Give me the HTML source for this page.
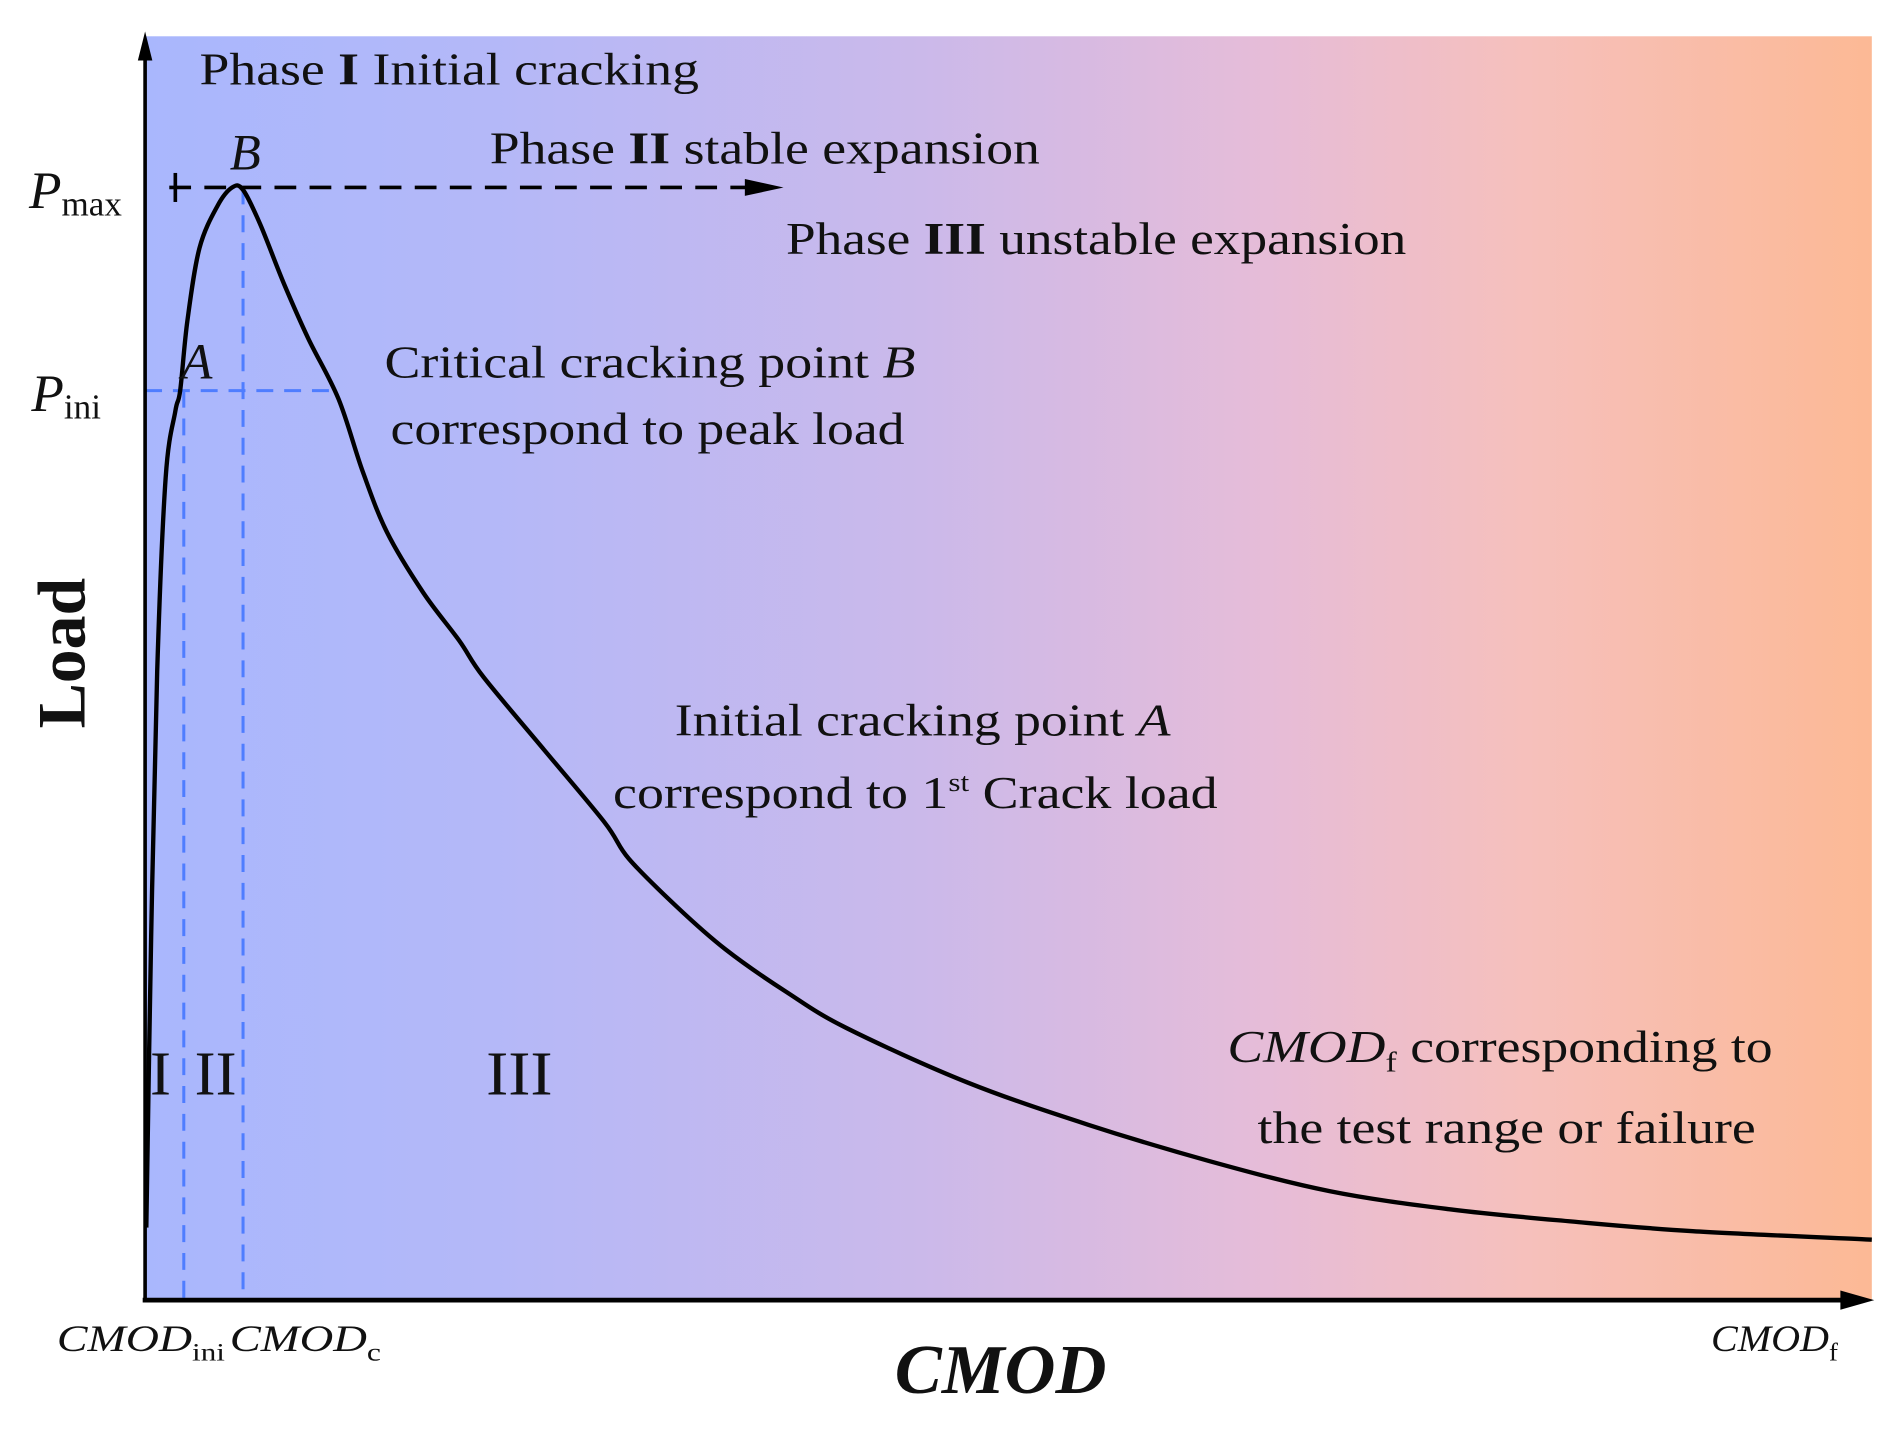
<!DOCTYPE html>
<html><head><meta charset="utf-8"><style>
html,body{margin:0;padding:0;background:#fff}
svg{display:block}
text{font-family:"Liberation Serif",serif;fill:#111}
</style></head><body>
<svg width="1896" height="1438" viewBox="0 0 1568 1189" preserveAspectRatio="none">
<defs>
<linearGradient id="bg" x1="0" x2="1" y1="0" y2="0">
<stop offset="0" stop-color="#a9b7fd"/>
<stop offset="0.2" stop-color="#b4b8f8"/>
<stop offset="0.45" stop-color="#cbb9ea"/>
<stop offset="0.65" stop-color="#e6bcd8"/>
<stop offset="0.8" stop-color="#f6c0bc"/>
<stop offset="1" stop-color="#fcb995"/>
</linearGradient>
</defs>
<rect x="120" y="30" width="1428" height="1045" fill="url(#bg)"/>
<g id="guides"></g>
<path id="curve" fill="none" stroke="#000" stroke-width="3.6" stroke-linejoin="round"/>
<line x1="120" y1="1075" x2="120" y2="40" stroke="#000" stroke-width="3"/>
<polygon points="120,26 114,50 126,50" fill="#000"/>
<line x1="118" y1="1075" x2="1530" y2="1075" stroke="#000" stroke-width="4"/>
<polygon points="1550,1075 1522,1067 1522,1083" fill="#000"/>

<text x="165" y="70" font-size="38" textLength="413" lengthAdjust="spacingAndGlyphs">Phase <tspan font-weight="bold">I</tspan> Initial cracking</text>
<text x="405" y="135" font-size="38" textLength="455" lengthAdjust="spacingAndGlyphs">Phase <tspan font-weight="bold">II</tspan> stable expansion</text>
<text x="650" y="210" font-size="38" textLength="513" lengthAdjust="spacingAndGlyphs">Phase <tspan font-weight="bold">III</tspan> unstable expansion</text>
<text x="318" y="312" font-size="38" textLength="439" lengthAdjust="spacingAndGlyphs">Critical cracking point <tspan font-style="italic">B</tspan></text>
<text x="323" y="367" font-size="38" textLength="425" lengthAdjust="spacingAndGlyphs">correspond to peak load</text>
<text x="558" y="608" font-size="38" textLength="410" lengthAdjust="spacingAndGlyphs">Initial cracking point <tspan font-style="italic">A</tspan></text>
<text x="507" y="668" font-size="38" textLength="500" lengthAdjust="spacingAndGlyphs">correspond to 1<tspan font-size="22" dy="-14">st</tspan><tspan dy="14"> Crack load</tspan></text>
<text x="1015" y="878" font-size="38" textLength="451" lengthAdjust="spacingAndGlyphs"><tspan font-style="italic">CMOD</tspan><tspan font-size="24" dy="8">f</tspan><tspan dy="-8"> corresponding to</tspan></text>
<text x="1040" y="945" font-size="38" textLength="412" lengthAdjust="spacingAndGlyphs">the test range or failure</text>
<text x="124" y="905" font-size="52">I</text>
<text x="161" y="905" font-size="52">II</text>
<text x="402" y="905" font-size="52" textLength="55" lengthAdjust="spacingAndGlyphs">III</text>
<text x="190" y="140" font-size="42" font-style="italic">B</text>
<text x="150" y="313" font-size="42" font-style="italic">A</text>
<text x="24" y="172" font-size="44" font-style="italic">P<tspan font-style="normal" font-size="29" dy="6">max</tspan></text>
<text x="26" y="340" font-size="44" font-style="italic">P<tspan font-style="normal" font-size="29" dy="6">ini</tspan></text>
<text x="47" y="1117" font-size="31" font-style="italic" textLength="139" lengthAdjust="spacingAndGlyphs">CMOD<tspan font-style="normal" font-size="21" dy="8">ini</tspan></text>
<text x="190" y="1117" font-size="31" font-style="italic" textLength="125" lengthAdjust="spacingAndGlyphs">CMOD<tspan font-style="normal" font-size="21" dy="8">c</tspan></text>
<text x="1415" y="1117" font-size="31" font-style="italic" textLength="105" lengthAdjust="spacingAndGlyphs">CMOD<tspan font-style="normal" font-size="21" dy="8">f</tspan></text>
<text x="740" y="1152" font-size="58" font-style="italic" font-weight="bold" textLength="175" lengthAdjust="spacingAndGlyphs">CMOD</text>
<text transform="translate(70,540) rotate(-90)" font-size="56" font-weight="bold" text-anchor="middle">Load</text>
</svg>
<script>
// CMOD (horizontal units from origin) and load (vertical units from baseline)
const cmod = [1, 5, 10, 17, 25, 29, 35, 45, 60, 72, 81, 95, 115, 135, 160, 180, 200, 230, 260, 280, 330, 380, 400, 440, 480, 530, 580, 680, 780, 880, 980, 1080, 1180, 1280, 1428];
const load = [60, 300, 520, 680, 735, 752, 810, 870, 905, 920, 918, 890, 840, 795, 745, 685, 635, 585, 545, 515, 455, 395, 365, 325, 290, 255, 225, 180, 145, 115, 90, 75, 65, 57, 50];
const pmax = 920, pini = 752, cmodIni = 32, cmodC = 81;
const X0 = 120, Y0 = 1075;
function xs(v){ return X0 + v; }
function ys(v){ return Y0 - v; }
const svgNS = 'http://www.w3.org/2000/svg';
const P = cmod.map((c,i)=>[xs(c), ys(load[i])]);
let d = 'M' + P[0][0] + ',' + P[0][1];
for (let i = 0; i < P.length - 1; i++) {
  const p0 = P[Math.max(0,i-1)], p1 = P[i], p2 = P[i+1], p3 = P[Math.min(P.length-1,i+2)];
  const c1x = p1[0] + (p2[0]-p0[0])/6, c1y = p1[1] + (p2[1]-p0[1])/6;
  const c2x = p2[0] - (p3[0]-p1[0])/6, c2y = p2[1] - (p3[1]-p1[1])/6;
  d += ' C' + c1x.toFixed(1) + ',' + c1y.toFixed(1) + ' ' + c2x.toFixed(1) + ',' + c2y.toFixed(1) + ' ' + p2[0].toFixed(1) + ',' + p2[1].toFixed(1);
}
document.getElementById('curve').setAttribute('d', d);
const g = document.getElementById('guides');
function line(x1,y1,x2,y2,color,w,dash,name){
  const l = document.createElementNS(svgNS,'line');
  l.setAttribute('x1',x1);l.setAttribute('y1',y1);l.setAttribute('x2',x2);l.setAttribute('y2',y2);
  l.setAttribute('stroke',color);l.setAttribute('stroke-width',w);
  if (dash) l.setAttribute('stroke-dasharray',dash);
  
  
  g.appendChild(l);
}
line(xs(0), ys(pini), xs(160), ys(pini), '#4f7dff', 2.5, '14,9', 'pini-guide-line');
line(xs(cmodIni), ys(pini), xs(cmodIni), Y0, '#4f7dff', 2.5, '14,9', 'cmodini-guide-line');
line(xs(cmodC), ys(pmax), xs(cmodC), Y0, '#4f7dff', 2.5, '14,9', 'cmodc-guide-line');
line(xs(20), ys(pmax), xs(500), ys(pmax), '#000', 3, '18,11', 'pmax-dashed-arrow');
line(xs(25), ys(pmax)-12, xs(25), ys(pmax)+12, '#000', 3, null, 'pmax-tick');
const ah = document.createElementNS(svgNS,'polygon');
ah.setAttribute('points', (xs(528))+','+ys(pmax)+' '+(xs(496))+','+(ys(pmax)-7)+' '+(xs(496))+','+(ys(pmax)+7));
ah.setAttribute('fill','#000');


g.appendChild(ah);
</script>
</body></html>
